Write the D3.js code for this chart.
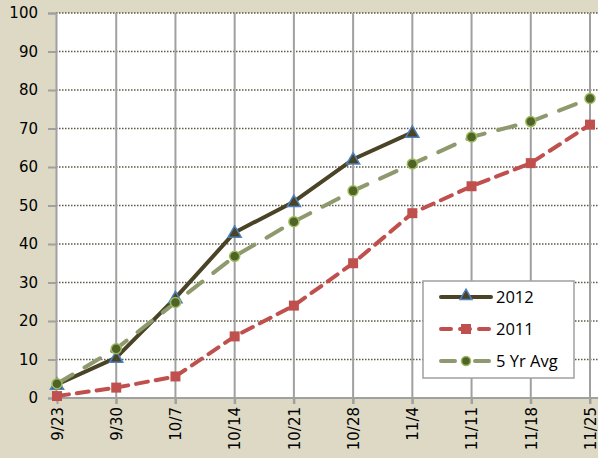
<!DOCTYPE html>
<html>
<head>
<meta charset="utf-8">
<script src="https://cdn.jsdelivr.net/npm/d3@7"></script>
<style>
  body { margin: 0; background: #DDD9C4; }
  svg { display: block; }
</style>
</head>
<body>
<svg width="598" height="458"></svg>
<script>
var weeks = ["9/23", "9/30", "10/7", "10/14", "10/21", "10/28", "11/4", "11/11", "11/18", "11/25"];
var yr2012 = [3.5, 10.5, 26, 43, 51, 62, 69];
var yr2011 = [0.5, 2.7, 5.6, 16, 24, 35, 48, 55, 61, 71];
var avg5 = [3.7, 12.8, 24.8, 36.8, 45.8, 53.8, 60.8, 67.8, 71.8, 77.8];
var yTicks = [0, 10, 20, 30, 40, 50, 60, 70, 80, 90, 100];

function main() {
    var svg = d3.select("svg"),
        left = 56,
        top = 13,
        bottom = 398;

    var x = d3.scalePoint()
        .domain(weeks)
        .range([57, 590]);

    var y = d3.scaleLinear()
        .domain([0, 100])
        .range([bottom, top]);

    // plot area
    svg.append("rect")
        .attr("x", left)
        .attr("y", top)
        .attr("width", 600 - left)
        .attr("height", bottom - top)
        .attr("fill", "#fff");

    // horizontal dotted grid
    svg.append("g")
        .selectAll("line")
        .data(yTicks.slice(1))
        .enter().append("line")
        .attr("x1", left)
        .attr("x2", 600)
        .attr("y1", function(d) { return y(d); })
        .attr("y2", function(d) { return y(d); })
        .attr("stroke", "#5e5846")
        .attr("stroke-width", 1.5)
        .attr("stroke-dasharray", "1.5,1.5");

    // vertical grid
    svg.append("g")
        .selectAll("line")
        .data(weeks.slice(1))
        .enter().append("line")
        .attr("x1", function(d) { return x(d); })
        .attr("x2", function(d) { return x(d); })
        .attr("y1", top)
        .attr("y2", bottom + 6)
        .attr("stroke", "#a0a0a0")
        .attr("stroke-width", 2);

    // Y axis
    var yAxis = svg.append("g")
        .attr("transform", "translate(" + left + ",0)")
        .call(d3.axisLeft(y).tickValues(yTicks).tickSize(8).tickPadding(10));
    yAxis.selectAll("line").attr("stroke", "#a0a0a0").attr("stroke-width", 2);
    yAxis.select(".domain").attr("stroke", "#a0a0a0").attr("stroke-width", 2);
    yAxis.selectAll("text")
        .attr("font-family", "DejaVu Sans")
        .attr("font-size", "15px")
        .attr("fill", "#000");

    // X axis
    var xAxis = svg.append("g")
        .attr("transform", "translate(0," + bottom + ")")
        .call(d3.axisBottom(x).tickSize(6).tickSizeOuter(0));
    xAxis.select(".domain").attr("stroke", "#a0a0a0").attr("stroke-width", 2)
        .attr("d", "M" + left + ",0H600");
    xAxis.selectAll("line").attr("stroke", "#a0a0a0").attr("stroke-width", 2);
    xAxis.selectAll("text")
        .attr("font-family", "DejaVu Sans")
        .attr("font-size", "15px")
        .attr("fill", "#000")
        .attr("transform", "rotate(-90)")
        .attr("text-anchor", "end")
        .attr("dy", "0.35em")
        .attr("x", -9)
        .attr("y", 0);

    var line = d3.line()
        .x(function(d, i) { return x(weeks[i]); })
        .y(function(d) { return y(d); });

    // 2012
    svg.append("path")
        .datum(yr2012)
        .attr("d", line)
        .attr("fill", "none")
        .attr("stroke", "#4A4326")
        .attr("stroke-width", 4)
        .attr("stroke-linejoin", "round");
    svg.append("g")
        .selectAll("path")
        .data(yr2012)
        .enter().append("path")
        .attr("d", d3.symbol().type(d3.symbolTriangle).size(75))
        .attr("transform", function(d, i) { return "translate(" + x(weeks[i]) + "," + (y(d) + 1) + ")"; })
        .attr("fill", "#4A4326")
        .attr("stroke", "#4F81BD")
        .attr("stroke-width", 1.5);

    // 2011
    svg.append("path")
        .datum(yr2011)
        .attr("d", line)
        .attr("fill", "none")
        .attr("stroke", "#C0504D")
        .attr("stroke-width", 4)
        .attr("stroke-dasharray", "12,8")
        .attr("stroke-linecap", "round");
    svg.append("g")
        .selectAll("rect")
        .data(yr2011)
        .enter().append("rect")
        .attr("x", function(d, i) { return x(weeks[i]) - 5; })
        .attr("y", function(d) { return y(d) - 5; })
        .attr("width", 10)
        .attr("height", 10)
        .attr("fill", "#C0504D");

    // 5 Yr Avg
    svg.append("path")
        .datum(avg5)
        .attr("d", line)
        .attr("fill", "none")
        .attr("stroke", "#8E9A6E")
        .attr("stroke-width", 4)
        .attr("stroke-dasharray", "18,14")
        .attr("stroke-linecap", "round");
    svg.append("g")
        .selectAll("circle")
        .data(avg5)
        .enter().append("circle")
        .attr("cx", function(d, i) { return x(weeks[i]); })
        .attr("cy", function(d) { return y(d); })
        .attr("r", 5)
        .attr("fill", "#4F6228")
        .attr("stroke", "#9BBB59")
        .attr("stroke-width", 1.5);

    // legend
    var lg = svg.append("g").attr("transform", "translate(423,281)");
    lg.append("rect")
        .attr("width", 151)
        .attr("height", 97)
        .attr("fill", "#fff")
        .attr("stroke", "#a0a0a0")
        .attr("stroke-width", 1.5);

    var items = [
        {name: "2012", color: "#4A4326", dash: null, mark: "tri"},
        {name: "2011", color: "#C0504D", dash: "10,9", mark: "sq"},
        {name: "5 Yr Avg", color: "#8E9A6E", dash: "14,20", mark: "circ"}
    ];
    items.forEach(function(it, i) {
        var cy = 16 + i * 32;
        lg.append("line")
            .attr("x1", 18).attr("x2", 68)
            .attr("y1", cy).attr("y2", cy)
            .attr("stroke", it.color)
            .attr("stroke-width", 4)
            .attr("stroke-dasharray", it.dash)
            .attr("stroke-linecap", "round");
        if (it.mark == "tri") {
            lg.append("path")
                .attr("d", d3.symbol().type(d3.symbolTriangle).size(60))
                .attr("transform", "translate(43," + (cy - 1) + ")")
                .attr("fill", "#4A4326")
                .attr("stroke", "#4F81BD")
                .attr("stroke-width", 1.5);
        } else if (it.mark == "sq") {
            lg.append("rect")
                .attr("x", 38).attr("y", cy - 5)
                .attr("width", 10).attr("height", 10)
                .attr("fill", "#C0504D");
        } else {
            lg.append("circle")
                .attr("cx", 43).attr("cy", cy)
                .attr("r", 4.5)
                .attr("fill", "#4F6228")
                .attr("stroke", "#9BBB59")
                .attr("stroke-width", 1.5);
        }
        lg.append("text")
            .attr("x", 73)
            .attr("y", cy)
            .attr("dy", "0.35em")
            .attr("font-family", "Open Sans")
            .attr("font-size", "16.5px")
            .text(it.name);
    });
}
main();
</script>
</body>
</html>
